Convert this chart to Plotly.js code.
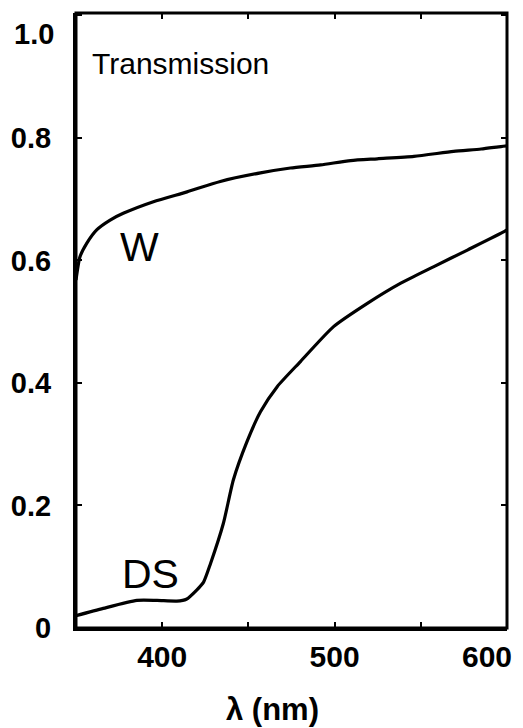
<!DOCTYPE html>
<html>
<head>
<meta charset="utf-8">
<script src="https://cdn.plot.ly/plotly-3.0.1.min.js"></script>
<style>html,body{margin:0;padding:0;background:#fff;}#chart{width:523px;height:728px;}</style>
</head>
<body>
<div id="chart"></div>
<script>
// Wavelength (nm) and transmission values
var wLambda = [350, 352.3, 356.2, 362, 369.8, 377.4, 394.9, 414.4, 433.7, 457, 474.4, 491.9, 509.3, 524.8, 546, 569, 585, 596.5, 600];
var wTrans  = [0.568, 0.606, 0.628, 0.650, 0.666, 0.677, 0.696, 0.712, 0.729, 0.743, 0.751, 0.756, 0.763, 0.766, 0.770, 0.778, 0.782, 0.786, 0.787];

var dsLambda = [350, 365.8, 385.3, 397, 408.5, 414, 420, 424, 428, 435.5, 441.3, 449, 457, 466.7, 480.2, 499.4, 519, 538.4, 557.6, 577, 598.3, 600];
var dsTrans  = [0.020, 0.032, 0.045, 0.045, 0.044, 0.047, 0.062, 0.075, 0.105, 0.171, 0.242, 0.303, 0.353, 0.394, 0.435, 0.492, 0.530, 0.563, 0.590, 0.617, 0.647, 0.650];

var yTickVals = [0, 0.2, 0.4, 0.6, 0.8, 1.0];
var yTickText = ["0", "0.2", "0.4", "0.6", "0.8", ""];
var xTickVals = [350, 400, 450, 500, 550, 600];
var xTickText = ["", "400", "", "500", "", ""];

var font = "Liberation Sans, Arial, Helvetica, sans-serif";

var traces = [
  {x: wLambda, y: wTrans, mode: "lines", line: {color: "#000", width: 3.2, shape: "spline", smoothing: 0.6}, hoverinfo: "skip"},
  {x: dsLambda, y: dsTrans, mode: "lines", line: {color: "#000", width: 3.2, shape: "spline", smoothing: 0.6}, hoverinfo: "skip"},
  {x: [350], y: [0], xaxis: "x2", yaxis: "y2", mode: "markers", marker: {opacity: 0}, hoverinfo: "skip"}
];

var tickCommon = {ticks: "inside", ticklen: 6, tickwidth: 2, tickcolor: "#000", showgrid: false, zeroline: false};

var layout = {
  width: 523, height: 728,
  margin: {l: 76, r: 16, t: 13, b: 100},
  paper_bgcolor: "#fff", plot_bgcolor: "#fff",
  showlegend: false,
  font: {family: font, color: "#000", size: 29},
  xaxis: Object.assign({
    range: [350, 600], tickvals: xTickVals, ticktext: xTickText,
    showline: true, linewidth: 3, linecolor: "#000",
    ticklabelstandoff: 0, ticklabeloverflow: "allow",
    tickfont: {family: font, size: 30, color: "#000", weight: "bold"}
  }, tickCommon),
  yaxis: Object.assign({
    range: [0, 1.004], tickvals: yTickVals, ticktext: yTickText,
    showline: true, linewidth: 3, linecolor: "#000",
    ticklabelstandoff: 16, ticklabeloverflow: "allow",
    tickfont: {family: font, size: 29, color: "#000", weight: "bold"}
  }, tickCommon),
  xaxis2: Object.assign({
    range: [350, 600], tickvals: xTickVals, overlaying: "x", side: "top",
    showticklabels: false, showline: false
  }, tickCommon),
  yaxis2: Object.assign({
    range: [0, 1.004], tickvals: yTickVals, overlaying: "y", side: "right",
    showticklabels: false, showline: false
  }, tickCommon),
  shapes: [
    {type: "rect", xref: "paper", yref: "paper", x0: 0, x1: 1, y0: 0, y1: 1, line: {color: "#000", width: 3}, fillcolor: "rgba(0,0,0,0)", layer: "above"}
  ],
  annotations: [
    {x: 600, y: 0, xref: "x", yref: "y", text: "600", showarrow: false, xanchor: "right", yanchor: "middle", xshift: 7, yshift: -28, font: {family: font, size: 30, color: "#000", weight: "bold"}},
    {x: 350, y: 1.0, xref: "x", yref: "y", text: "1.0", showarrow: false, xanchor: "right", yanchor: "middle", xshift: -20, yshift: -19, font: {family: font, size: 29, color: "#000", weight: "bold"}},
    {x: 358, y: 0.922, xref: "x", yref: "y", text: "Transmission", showarrow: false, xanchor: "left", yanchor: "middle", font: {family: font, size: 30, color: "#000"}},
    {x: 386.6, y: 0.622, xref: "x", yref: "y", text: "W", showarrow: false, xanchor: "center", yanchor: "middle", font: {family: font, size: 41, color: "#000"}},
    {x: 393, y: 0.088, xref: "x", yref: "y", text: "DS", showarrow: false, xanchor: "center", yanchor: "middle", font: {family: font, size: 41, color: "#000"}},
    {x: 0.455, y: -0.133, xref: "paper", yref: "paper", text: "λ (nm)", showarrow: false, xanchor: "center", yanchor: "middle", font: {family: font, size: 31, color: "#000", weight: "bold"}}
  ]
};

Plotly.newPlot("chart", traces, layout, {displayModeBar: false, staticPlot: true});
</script>
</body>
</html>
